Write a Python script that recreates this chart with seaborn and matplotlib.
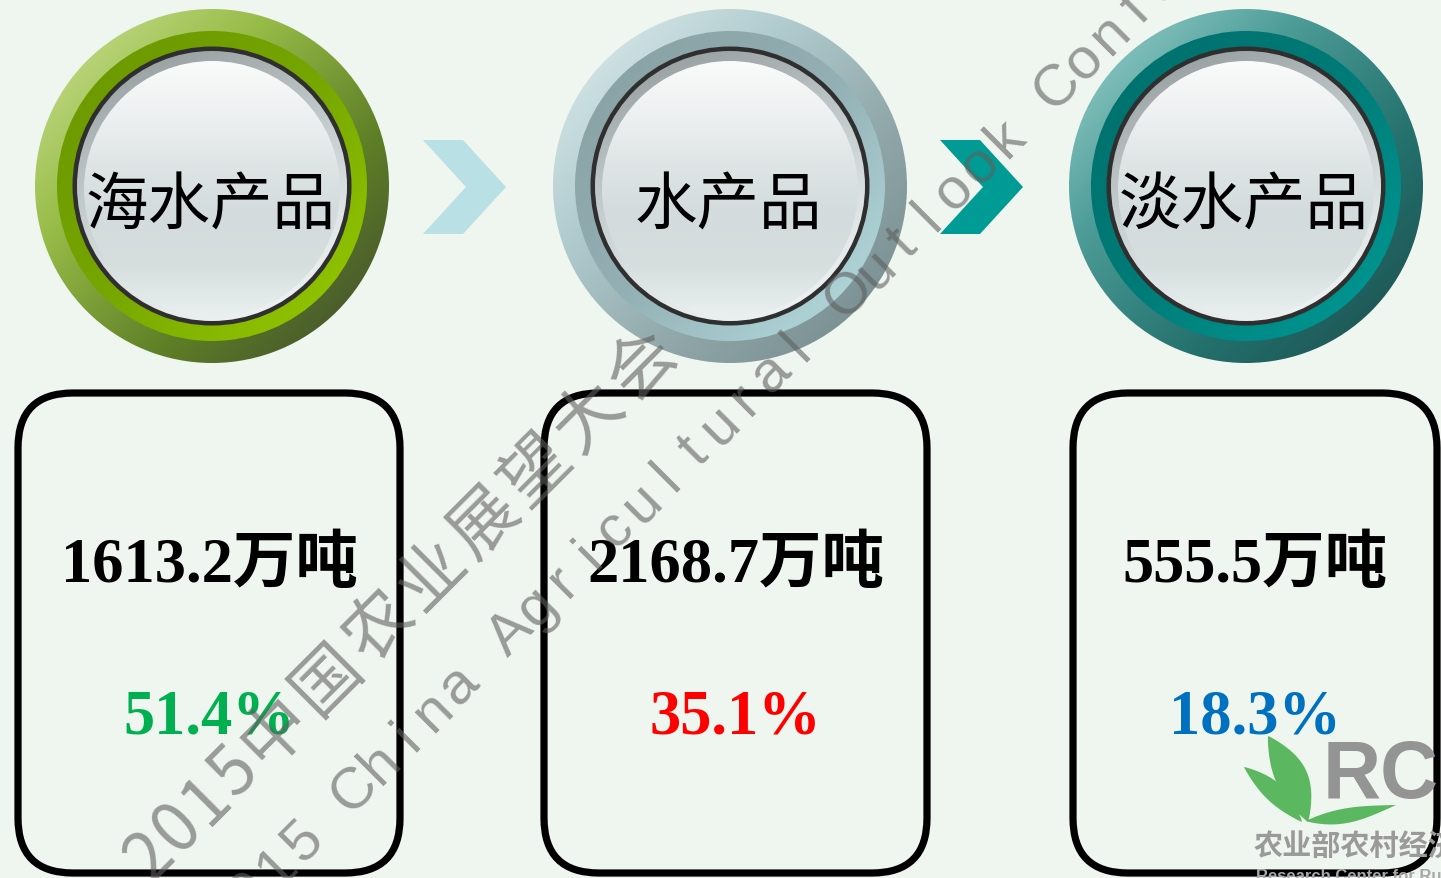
import numpy as np
import matplotlib
matplotlib.use('Agg')
import matplotlib.pyplot as plt
import seaborn as sns
from matplotlib.patches import Circle, FancyBboxPatch, Polygon
from matplotlib.colors import LinearSegmentedColormap

# ---------------- data ----------------
categories = ['海水产品', '水产品', '淡水产品']
amounts = [1613.2, 2168.7, 555.5]          # 万吨
shares = [51.4, 35.1, 18.3]                # %
unit = '万吨'
share_colors = ['#00b050', '#ff0000', '#0070c0']
watermark_cn = '2015中国农业展望大会'
watermark_en = '2015 China Agricultural Outlook Conference'

# ---------------- style ----------------
sns.set_theme(style='white')
plt.rcParams['font.family'] = ['Liberation Serif', 'Noto Sans CJK SC', 'DejaVu Sans']

W, H = 1441, 879
BG = '#eff5ef'
fig = plt.figure(figsize=(W / 100, H / 100), dpi=100)
fig.patch.set_facecolor(BG)
ax = fig.add_axes([0, 0, 1, 1])
ax.set_facecolor(BG)
ax.axis('off')

circle_cx = [212, 730, 1246]
circle_cy = 187
box_x = [(18, 400), (544, 927), (1073, 1437)]

ring_styles = [
    dict(outer=['#cfe49a', '#98bc48', '#5e7e26', '#3c4630'],
         ring=['#6a9600', '#76a600', '#98cc00']),
    dict(outer=['#e2eff0', '#b2cdd0', '#8ea4a6', '#6f8587'],
         ring=['#879ea1', '#93b0b4', '#b8e0e4']),
    dict(outer=['#a2d6d2', '#4d9c98', '#23706d', '#1c4a49'],
         ring=['#006e6b', '#007c78', '#009c98']),
]
chevron_colors = ['#b9e0e4', '#009b94']


def grad_disc(cx, cy, r, colors, direction=(1, 1), z=1):
    n = 256
    jj, ii = np.meshgrid(np.linspace(0, 1, n), np.linspace(0, 1, n))
    t = jj * direction[0] + ii * direction[1]
    t = (t - t.min()) / (t.max() - t.min())
    cmap = LinearSegmentedColormap.from_list('g', colors)
    im = ax.imshow(t, cmap=cmap, extent=(cx - r, cx + r, cy + r, cy - r),
                   origin='upper', zorder=z, interpolation='bilinear')
    clip = Circle((cx, cy), r, transform=ax.transData)
    im.set_clip_path(clip)
    return im


# ---------------- circles ----------------
for k, cx in enumerate(circle_cx):
    st = ring_styles[k]
    grad_disc(cx, circle_cy, 177, st['outer'], (1, 1), z=1)
    grad_disc(cx, circle_cy, 155, st['ring'], (1, 1), z=2)
    ax.add_patch(Circle((cx, circle_cy), 139.5, facecolor='#2f2f2f', edgecolor='none', zorder=3))
    grad_disc(cx, circle_cy, 135, ['#8e9698', '#b9c1c3', '#dde3e4', '#f3f6f6'], (0.35, 1), z=4)
    grad_disc(cx, circle_cy + 3, 128,
              ['#fafbfb', '#eef1f1', '#dfe5e5', '#d3dbdc', '#d6dede', '#eaf0f0'], (0, 1), z=5)
    ax.text(cx - 2, 207, categories[k], fontsize=45, ha='center', va='center',
            family=['Noto Sans CJK SC', 'DejaVu Sans'], color='black', zorder=6)

# ---------------- chevrons ----------------
for k in range(2):
    x0 = (circle_cx[k] + circle_cx[k + 1]) / 2 - 48
    pts = [(x0, 141), (x0 + 40, 141), (x0 + 83, 188), (x0 + 40, 235), (x0, 235), (x0 + 43, 188)]
    ax.add_patch(Polygon(pts, closed=True, facecolor=chevron_colors[k], edgecolor='none', zorder=2))

# ---------------- boxes & values ----------------
for k, (x0, x1) in enumerate(box_x):
    ax.add_patch(FancyBboxPatch((x0, 394), x1 - x0, 480,
                                boxstyle='round,pad=0,rounding_size=55',
                                facecolor='none', edgecolor='black', linewidth=5.2, zorder=4))
    bx = (x0 + x1) / 2
    ax.text(bx, 582, f'{amounts[k]:.1f}{unit}', fontsize=45, fontweight='bold',
            ha='center', va='baseline', color='black', zorder=6)
    ax.text(bx, 734, f'{shares[k]:.1f}%', fontsize=45, fontweight='bold',
            ha='center', va='baseline', color=share_colors[k], zorder=6)

# ---------------- logo (bottom right) ----------------
def leaf(p0, p1, w, skew=0.0, color='#5cb860', z=7):
    p0 = np.array(p0, float)
    p1 = np.array(p1, float)
    d = p1 - p0
    nrm = np.array([-d[1], d[0]]) / np.hypot(*d)
    t = np.linspace(0, 1, 40)
    prof = np.sin(np.pi * t) ** 0.9 * (1 + skew * (0.5 - t))
    side1 = p0 + np.outer(t, d) + np.outer(prof * w / 2, nrm)
    side2 = p0 + np.outer(t[::-1], d) - np.outer(prof[::-1] * w / 2 * 0.6, nrm)
    ax.add_patch(Polygon(np.vstack([side1, side2]), closed=True, facecolor=color,
                         edgecolor='none', zorder=z))


leaf((1308, 823), (1268, 737), 40)
leaf((1302, 823), (1244, 768), 24)
leaf((1306, 822), (1396, 806), 18, skew=0.6)
ax.text(1323, 798, 'RC', fontsize=58, fontweight='bold', color='#949494',
        family=['Liberation Sans'], ha='left', va='baseline', zorder=7)
ax.text(1254, 846, '农业部农村经济研究中心', fontsize=21, fontweight='bold', color='#9a9a9a',
        family=['Noto Sans CJK SC'], ha='left', va='center', zorder=7)
ax.text(1256, 877, 'Research Center for Rural Economy', fontsize=12, fontweight='bold',
        color='#a8a8a8', family=['Liberation Sans'], ha='left', va='center', zorder=7)

# ---------------- watermark ----------------
u = np.array([np.cos(np.pi / 4), -np.sin(np.pi / 4)])


def place_line(text, start, adv_ascii, adv_cjk, fs, family):
    p = np.array(start, float)
    prev = None
    for ch in text:
        a = adv_cjk if ord(ch) > 0x2e80 else adv_ascii
        if prev is not None:
            p = p + u * (prev + a) / 2
        if ch != ' ':
            ax.text(p[0], p[1], ch, fontsize=fs, rotation=45, rotation_mode='anchor',
                    ha='center', va='center', color='#5f5f5f', alpha=0.6,
                    family=family, zorder=8)
        prev = a


place_line(watermark_cn, (150, 857), 40, 74, 49, ['Noto Sans CJK SC', 'DejaVu Sans'])
place_line(watermark_en, (225, 920), 36.8, 36.8, 42, ['Liberation Sans', 'DejaVu Sans'])

ax.set_xlim(0, W)
ax.set_ylim(H, 0)
ax.set_aspect('auto')
fig.savefig('out.png', dpi=100, facecolor=BG)
